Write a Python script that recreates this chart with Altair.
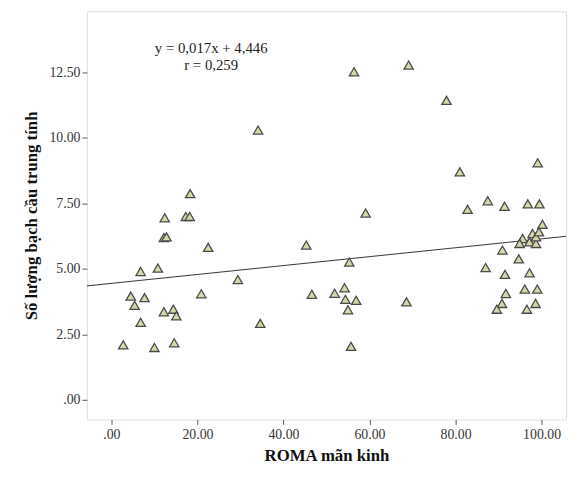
import altair as alt
import pandas as pd

roma = [2.75, 10.0, 14.6, 6.8, 12.2, 14.4, 15.1, 4.5, 7.7, 5.4,
        20.9, 6.8, 10.8, 29.4, 22.5, 12.2, 12.8, 12.4, 17.3, 18.2,
        18.3, 34.1, 34.6, 45.3, 46.6, 51.9, 54.2, 54.4, 56.9, 55.0,
        55.3, 55.7, 59.1, 56.4, 68.6, 69.1, 77.9, 81.0, 82.8, 87.5,
        91.4, 96.8, 99.5, 99.1, 100.2, 97.9, 95.6, 94.9, 97.2, 98.7,
        98.7, 99.4, 90.9, 94.7, 87.0, 91.5, 97.2, 96.1, 99.0, 91.7,
        90.8, 89.6, 98.6, 96.6]
neut = [2.10, 2.00, 2.18, 2.96, 3.36, 3.46, 3.21, 3.96, 3.90, 3.61,
        4.05, 4.90, 5.03, 4.59, 5.82, 6.19, 6.22, 6.95, 7.00, 7.00,
        7.87, 10.30, 2.92, 5.91, 4.03, 4.07, 4.28, 3.84, 3.80, 3.44,
        5.26, 2.04, 7.13, 12.52, 3.74, 12.78, 11.43, 8.70, 7.27, 7.60,
        7.39, 7.48, 7.48, 9.05, 6.70, 6.35, 6.16, 5.97, 6.03, 5.97,
        6.22, 6.41, 5.72, 5.38, 5.05, 4.79, 4.85, 4.23, 4.23, 4.06,
        3.68, 3.46, 3.68, 3.46]

slope = 0.017
intercept = 4.446
x_domain = [-5.7, 105.7]
y_domain = [-0.75, 14.83]
x_ticks = [0, 20, 40, 60, 80, 100]
y_ticks = [0, 2.5, 5, 7.5, 10, 12.5]
eq_lines = ["y = 0,017x + 4,446", "r = 0,259"]
eq_x = [23.2, 23.2]
eq_y = [13.44, 12.76]

FONT = "Liberation Serif"

pts = pd.DataFrame({"x": roma, "y": neut})
fit = pd.DataFrame({"x": x_domain, "y": [intercept + slope * v for v in x_domain]})
ann = pd.DataFrame({"x": eq_x, "y": eq_y, "t": eq_lines})

lab = "datum.value == 0 ? '.00' : format(datum.value, '.2f')"

xs = alt.Scale(domain=x_domain, nice=False, zero=False)
ys = alt.Scale(domain=y_domain, nice=False, zero=False)

xax = alt.Axis(values=x_ticks, labelExpr=lab, title="ROMA mãn kinh", grid=False,
               domain=False, tickColor="#555555", tickSize=5,
               labelFont=FONT, labelFontSize=14, labelColor="#333333", labelPadding=3,
               titleFont=FONT, titleFontSize=17, titleFontWeight="bold",
               titleColor="#111111", titlePadding=7)
yax = alt.Axis(values=y_ticks, labelExpr=lab, title="Số lượng bạch cầu trung tính",
               grid=False, domain=False, tickColor="#555555", tickSize=5,
               labelFont=FONT, labelFontSize=14, labelColor="#333333", labelPadding=2,
               titleFont=FONT, titleFontSize=17, titleFontWeight="bold",
               titleColor="#111111", titlePadding=9)

points = alt.Chart(pts).mark_point(shape="triangle-up", size=90, filled=True,
                                   fill="#d6d6a6", stroke="#4a4a4a",
                                   strokeWidth=1.3, opacity=1).encode(
    x=alt.X("x:Q", scale=xs, axis=xax),
    y=alt.Y("y:Q", scale=ys, axis=yax),
)

line = alt.Chart(fit).mark_line(color="#333333", strokeWidth=1, clip=True).encode(
    x=alt.X("x:Q", scale=xs), y=alt.Y("y:Q", scale=ys))

text = alt.Chart(ann).mark_text(font=FONT, fontSize=15, color="#222222",
                                align="center", baseline="middle").encode(
    x=alt.X("x:Q", scale=xs), y=alt.Y("y:Q", scale=ys), text="t:N")

chart = alt.layer(line, points, text).properties(
    width=486, height=414,
    autosize=alt.AutoSizeParams(type="none"),
    padding={"left": 80, "top": 0, "right": 6, "bottom": 59},
).configure_view(stroke="#666666", strokeWidth=1.5).configure(
    background="white", font=FONT
).configure_axis(labelFont=FONT, titleFont=FONT)

chart.save("out.html", embed_options={"renderer": "svg", "actions": False})
